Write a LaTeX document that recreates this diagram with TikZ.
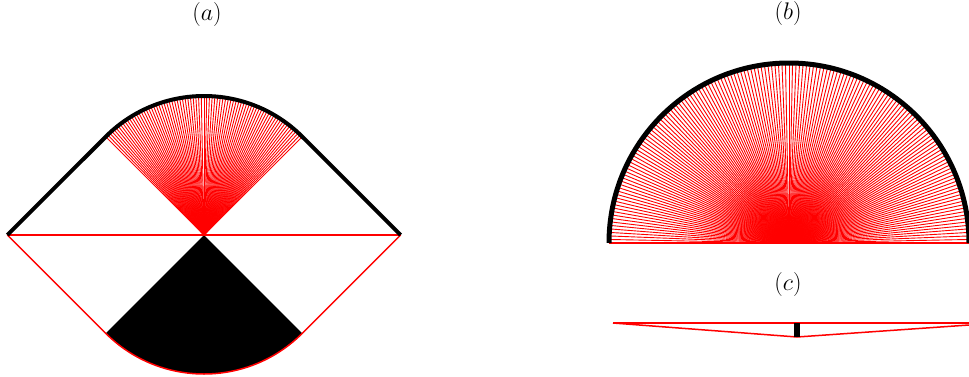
\documentclass[tikz,border=0pt]{standalone}
\usepackage{fix-cm}
\usetikzlibrary{calc}
\begin{document}
\begin{tikzpicture}[x=1pt,y=1pt,
  redline/.style={draw=red,line width=1.5pt},
  fanline/.style={draw=red,line width=0.9pt},
  blackline/.style={draw=black,line width=4pt,line join=round},
  lbl/.style={inner sep=0pt,font=\fontsize{24}{29}\selectfont}]
\useasboundingbox (0,0) rectangle (969,376);
% ---------- panel (a)
\def\ra{139}
\coordinate (C) at (204,141);
\coordinate (L) at ($(C)+(-196.6,0)$);
\coordinate (R) at ($(C)+(196.6,0)$);
\coordinate (TL) at ($(C)+(135:\ra)$);
\coordinate (TR) at ($(C)+(45:\ra)$);
\coordinate (BL) at ($(C)+(225:\ra)$);
\coordinate (BR) at ($(C)+(315:\ra)$);
\fill[black] (C) -- (BL) arc[start angle=225,end angle=315,radius=\ra] -- cycle;
\foreach \t in {45,46.125,...,135.1}{
  \draw[fanline] (C) -- ($(C)+(\t:\ra)$);
}
\draw[redline] (L) -- (R);
\draw[redline] (L) -- (BL) arc[start angle=225,end angle=315,radius=\ra] -- (R);
\draw[blackline] (L) -- (TL) arc[start angle=135,end angle=45,radius=\ra] -- (R);
\node[lbl] (la) at (207,361) {$(a)$};
% ---------- panel (b)
\def\rb{180}
\coordinate (B) at (789,133);
\foreach \t in {0,1.125,...,180.1}{
  \draw[fanline] (B) -- ($(B)+(\t:\rb)$);
}
\coordinate (BLb) at ($(B)+(180:\rb)$);
\coordinate (BRb) at ($(B)+(0:\rb)$);
\draw[redline] (BLb) -- (BRb);
\draw[draw=black,line width=5pt] (BLb) arc[start angle=180,end angle=0,radius=\rb];
\node[lbl] (lb) at (788,362) {$(b)$};
% ---------- panel (c)
\coordinate (c1) at (613,53);
\coordinate (c2) at (969,53);
\coordinate (c3) at (797,39);
\coordinate (c4) at (969,51);
\coordinate (c5) at (797,53);
\draw[redline] (c1) -- (c2);
\draw[redline] (c1) -- (c3) -- (c4);
\draw[draw=black,line width=5.5pt] (c3) -- (c5);
\node[lbl] (lc) at (788,92) {$(c)$};
\end{tikzpicture}
\end{document}
